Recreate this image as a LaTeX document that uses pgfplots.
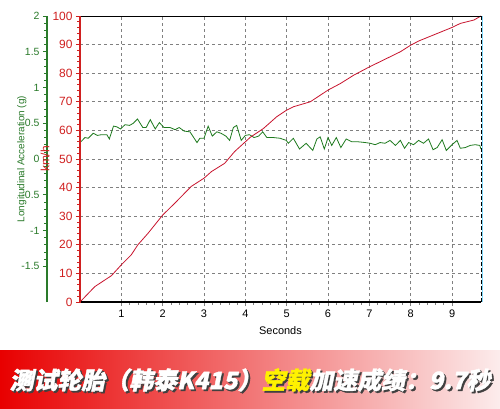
\documentclass[border=0pt]{standalone}
\usepackage{pgfplots}
\pgfplotsset{compat=1.18}
\usepackage{pgfplotstable}
\usepackage{fontspec}
\setmainfont{Liberation Sans}
\newfontfamily\cjk[FakeSlant=0.2, BoldFeatures={FakeBold=1.5}]{Noto Sans CJK SC}
\definecolor{rline}{HTML}{C8142E}
\definecolor{raxis}{HTML}{D02020}
\definecolor{gline}{HTML}{1E7A1E}
\definecolor{gaxis}{HTML}{2A7A2A}

\pgfplotstableread{
t v
0 0
0.36 5.4
0.76 9.2
1.0 13.0
1.24 16.5
1.4 20.0
1.65 24.1
2.0 30.4
2.29 34.5
2.69 40.4
3.0 43.3
3.18 45.6
3.5 48.5
3.74 52.6
4.12 57.6
4.44 60.7
4.76 64.8
5.0 67.1
5.17 68.3
5.57 70.0
6.0 74.1
6.3 76.4
6.62 79.3
7.0 82.2
7.34 84.6
7.75 87.5
8.0 89.8
8.2 91.3
8.54 93.3
9.0 96.0
9.2 97.4
9.53 98.6
9.7 100
}\speed

\pgfplotstableread{
t g
0.02 0.24
0.12 0.30
0.20 0.29
0.32 0.36
0.42 0.33
0.52 0.34
0.65 0.34
0.71 0.28
0.81 0.46
0.89 0.45
0.98 0.42
1.09 0.48
1.20 0.47
1.29 0.50
1.39 0.56
1.52 0.44
1.60 0.44
1.70 0.55
1.82 0.42
1.92 0.51
2.03 0.44
2.18 0.44
2.30 0.41
2.40 0.44
2.52 0.39
2.66 0.38
2.83 0.23
2.90 0.29
3.00 0.29
3.10 0.46
3.20 0.32
3.31 0.38
3.41 0.36
3.53 0.32
3.62 0.26
3.71 0.44
3.79 0.47
3.90 0.26
4.00 0.33
4.10 0.34
4.21 0.30
4.32 0.32
4.42 0.38
4.52 0.30
4.68 0.30
4.84 0.29
4.99 0.26
5.04 0.22
5.16 0.29
5.31 0.14
5.47 0.22
5.63 0.12
5.73 0.28
5.81 0.31
5.91 0.14
6.00 0.30
6.09 0.19
6.20 0.30
6.31 0.16
6.44 0.28
6.58 0.24
6.74 0.24
6.90 0.23
7.02 0.22
7.14 0.20
7.26 0.23
7.38 0.22
7.50 0.26
7.63 0.19
7.75 0.26
7.85 0.15
7.95 0.23
8.07 0.20
8.19 0.26
8.31 0.22
8.43 0.28
8.54 0.13
8.64 0.16
8.76 0.27
8.86 0.12
9.00 0.20
9.12 0.26
9.20 0.15
9.32 0.16
9.44 0.19
9.56 0.20
9.67 0.19
9.70 0.14
}\accel

\begin{document}
\begin{tikzpicture}
\useasboundingbox (-80bp,-107bp) rectangle (420bp,302bp);
\fill[white] (-80bp,-107bp) rectangle (420bp,302bp);
\shade[left color={rgb,255:red,232;green,0;blue,0}, middle color={rgb,255:red,246;green,80;blue,80}, right color={rgb,255:red,252;green,236;blue,236}] (-80bp,-107bp) rectangle (420bp,-48bp);

% green scale axis
\begin{axis}[
  at={(-33bp,0)},
  scale only axis, width=401bp, height=286bp,
  xmin=0, xmax=9.7, ymin=-2, ymax=2,
  axis line style={draw=none},
  xtick=\empty,
  ytick={-1.5,-1,-0.5,0,0.5,1,1.5,2},
  minor y tick num=4,
  tick pos=left, tick align=outside,
  major tick length=4bp, minor tick length=2.5bp,
  y tick style={gaxis, line width=0.7bp},
  yticklabel style={gaxis, font=\fontsize{10.5}{12}\selectfont},
  /pgf/number format/assume math mode=true,
  ylabel={Longitudinal Acceleration (g)},
  ylabel style={gaxis, font=\fontsize{10}{12}\selectfont, at={(axis description cs:-0.063,0.5)}, anchor=center},
  clip=false,
]
\addplot[draw=none] coordinates {(0,0)};
\draw[gaxis, line width=2.5bp] (rel axis cs:0,0) -- (rel axis cs:0,1);
\end{axis}

% main axis
\begin{axis}[
  scale only axis, width=401bp, height=286bp,
  xmin=0, xmax=9.7, ymin=0, ymax=100,
  axis line style={draw=none},
  tick pos=left, tick align=outside,
  xtick={1,...,9}, ytick={0,10,...,100},
  minor x tick num=4, minor y tick num=4,
  grid=major,
  major grid style={gray, line width=0.7bp, dash pattern=on 3bp off 3bp},
  major tick length=4bp, minor tick length=2.5bp,
  x tick style={gray, line width=0.6bp},
  y tick style={raxis, line width=0.7bp},
  xticklabel style={font=\fontsize{11}{12}\selectfont},
  yticklabel style={raxis, font=\fontsize{12}{14}\selectfont},
  /pgf/number format/assume math mode=true,
  xlabel={Seconds},
  xlabel style={font=\fontsize{11}{12}\selectfont, at={(axis description cs:0.5,-0.1)}, anchor=center},
  ylabel={km/h},
  ylabel style={raxis, font=\fontsize{12}{14}\selectfont, at={(axis description cs:-0.087,0.5)}, anchor=center},
  clip=false,
]
\addplot[gline, line width=0.8bp] table[x=t, y expr=(\thisrow{g}+2)*25] {\accel};
\addplot[rline, line width=0.8bp] table[x=t, y=v] {\speed};
\draw[black, line width=0.8bp] (rel axis cs:0,1) -- (rel axis cs:1,1);
\draw[cyan!50, line width=1.2bp] ([xshift=1.3bp]rel axis cs:1,0) -- ([xshift=1.3bp]rel axis cs:1,1);
\draw[black, line width=0.8bp, dash pattern=on 4bp off 2bp] (rel axis cs:1,0) -- (rel axis cs:1,1);
\draw[black, line width=2.5bp] (rel axis cs:0,0) -- (rel axis cs:1,0);
\draw[raxis, line width=2.5bp] (rel axis cs:0,-0.004) -- (rel axis cs:0,1);
\end{axis}

\node[font=\cjk\bfseries\fontsize{24}{24}\selectfont, text=black!75] at (171.8bp,-79.8bp) {测试轮胎（韩泰K415）空载加速成绩：9.7秒};
\node[font=\cjk\bfseries\fontsize{24}{24}\selectfont, text=white] at (170bp,-78bp) {测试轮胎（韩泰K415）\textcolor{yellow}{空载}加速成绩：9.7秒};
\end{tikzpicture}
\end{document}
